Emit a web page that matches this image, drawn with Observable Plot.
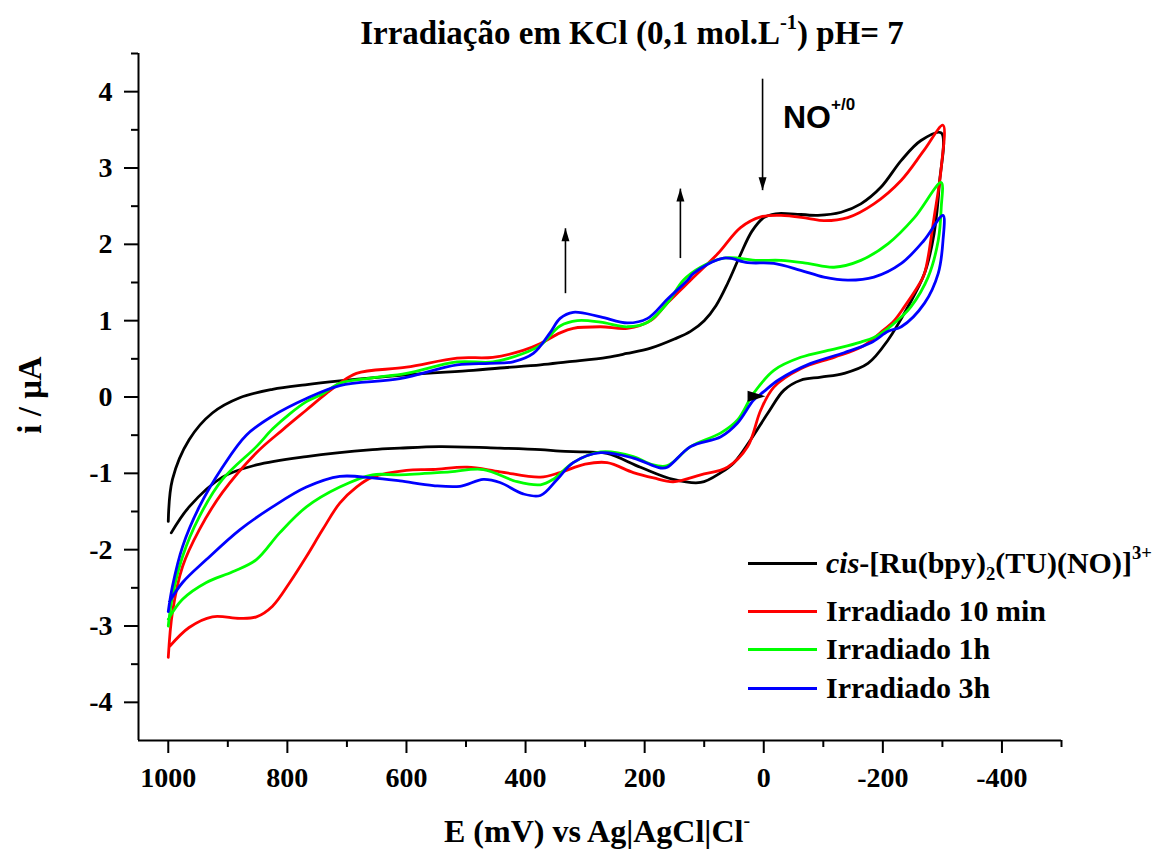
<!DOCTYPE html>
<html><head><meta charset="utf-8">
<script src="https://cdn.jsdelivr.net/npm/d3@7"></script>
<script src="https://cdn.jsdelivr.net/npm/@observablehq/plot@0.6"></script>
<style>
body{margin:0;background:#fff}
#wrap{position:relative;width:1159px;height:851px;overflow:hidden;font-family:"Liberation Serif","Times New Roman",serif;font-weight:bold;color:#000;background:#fff}
#wrap svg{position:absolute;left:0;top:0}
.ov{position:absolute;white-space:nowrap;line-height:1}
.ov sup,.ov sub{line-height:0;font-size:0.62em;position:relative;vertical-align:baseline}
.ov sup{top:-0.75em}
.ov sub{top:0.35em}
.leg{position:absolute;left:748px;height:30px;display:flex;align-items:center;font-size:30px;line-height:1;white-space:nowrap}
.leg .sw{width:69px;height:3px;margin-right:9px}
</style></head><body><div id="wrap"></div>
<script>
// ---- axis settings / ticks ----
const xDomain = [1050, -500];
const yDomain = [-4.5, 4.5];
const xMajor = [1000, 800, 600, 400, 200, 0, -200, -400];
const xMinor = [900, 700, 500, 300, 100, -100, -300, -500];
const yMajor = [-4, -3, -2, -1, 0, 1, 2, 3, 4];
const yMinor = [-3.5, -2.5, -1.5, -0.5, 0.5, 1.5, 2.5, 3.5, 4.5];

// ---- series: E (mV) and i (µA), one closed voltammogram each ----
const blackE = [1000,993,965,926,880,825,770,712,600,488,443,375,330,263,230,190,150,123,100,80,60,40,20,0,-20,-45,-91,-130,-163,-197,-231,-264,-298,
  -295,-286,-270,-242,-209,-175,-135,-96,-62,-34,-7,22,50,72,106,152,207,263,300,342,375,443,544,611,657,768,852,909,965,995];
const blackI = [-1.63,-1.08,-0.56,-0.21,-0.01,0.10,0.16,0.21,0.29,0.35,0.38,0.42,0.46,0.52,0.57,0.64,0.76,0.86,1.00,1.20,1.50,1.85,2.17,2.35,2.40,2.40,2.38,2.42,2.53,2.75,3.10,3.36,3.46,
  2.80,2.14,1.62,1.18,0.75,0.44,0.31,0.26,0.22,0.09,-0.21,-0.56,-0.86,-0.99,-1.12,-1.08,-0.92,-0.74,-0.72,-0.71,-0.69,-0.67,-0.65,-0.67,-0.69,-0.78,-0.89,-1.05,-1.44,-1.78];

const redE = [1000,993,976,948,909,852,808,768,734,712,684,600,515,455,404,375,342,320,274,229,190,162,123,77,39,5,-29,-74,-101,-141,-185,-231,-269,-301,
  -298,-286,-270,-259,-236,-219,-197,-163,-118,-62,-17,5,27,61,106,152,185,219,263,300,342,375,443,498,555,600,657,684,712,741,768,796,825,852,880,926,965,998];
const redI = [-3.41,-2.82,-2.22,-1.74,-1.25,-0.73,-0.43,-0.17,0.05,0.18,0.31,0.39,0.51,0.52,0.61,0.70,0.84,0.90,0.92,0.90,1.00,1.23,1.53,1.88,2.22,2.36,2.38,2.34,2.31,2.35,2.53,2.84,3.23,3.56,
  3.00,2.35,1.62,1.45,1.18,1.00,0.85,0.65,0.52,0.37,0.13,-0.17,-0.65,-0.92,-1.02,-1.11,-1.06,-0.99,-0.86,-0.88,-0.99,-1.05,-0.98,-0.92,-0.95,-0.96,-1.05,-1.18,-1.39,-1.74,-2.09,-2.43,-2.74,-2.88,-2.90,-2.88,-3.02,-3.27];

const greenE = [1000,993,976,948,909,852,825,796,768,741,712,657,600,515,455,404,375,342,313,274,229,195,162,135,106,67,10,-29,-74,-118,-163,-209,-253,-298,
  -298,-293,-276,-247,-231,-209,-185,-163,-130,-108,-62,-17,17,44,72,123,162,190,219,274,320,354,375,414,471,527,611,657,712,768,813,852,892,936,976,1000];
const greenI = [-3.00,-2.61,-2.09,-1.57,-1.08,-0.65,-0.42,-0.22,-0.06,0.04,0.18,0.25,0.31,0.46,0.46,0.57,0.68,0.93,1.00,0.98,0.92,0.98,1.23,1.53,1.70,1.82,1.79,1.79,1.75,1.70,1.79,2.01,2.35,2.81,
  2.48,2.05,1.57,1.18,1.05,0.90,0.78,0.72,0.65,0.61,0.52,0.35,0.05,-0.30,-0.47,-0.65,-0.90,-0.88,-0.78,-0.72,-0.86,-1.08,-1.15,-1.11,-0.95,-0.98,-1.02,-1.02,-1.18,-1.44,-1.78,-2.13,-2.29,-2.43,-2.65,-2.91];

const blueE = [1000,993,976,948,909,869,825,768,712,611,515,460,421,387,359,342,320,274,229,195,162,128,118,67,27,-17,-62,-101,-141,-185,-231,-269,-301,
  -301,-293,-270,-231,-209,-180,-135,-79,-24,0,17,44,72,123,162,173,219,274,320,347,375,404,443,471,510,555,611,657,712,768,825,880,936,976,998];
const blueI = [-2.81,-2.48,-1.96,-1.44,-0.92,-0.50,-0.25,-0.02,0.15,0.24,0.42,0.44,0.46,0.57,0.84,1.03,1.11,1.05,0.97,1.03,1.28,1.53,1.62,1.82,1.76,1.75,1.66,1.57,1.53,1.57,1.75,2.05,2.38,
  2.05,1.62,1.23,0.92,0.86,0.71,0.58,0.44,0.22,0.07,-0.04,-0.34,-0.52,-0.65,-0.92,-0.93,-0.80,-0.73,-0.86,-1.08,-1.29,-1.27,-1.12,-1.08,-1.17,-1.16,-1.10,-1.06,-1.04,-1.18,-1.44,-1.74,-2.13,-2.43,-2.68];

const seriesLabels = [
  "<i>cis</i>-[Ru(bpy)<sub>2</sub>(TU)(NO)]<sup>3+</sup>",
  "Irradiado 10 min",
  "Irradiado 1h",
  "Irradiado 3h"
];
const seriesColors = ["#000000", "#ff0000", "#00ff00", "#0000ff"];

// ---- annotations ----
const arrowE = [333, 140, 2];
const arrowFrom = [1.36, 1.82, 4.17];
const arrowTo = [2.21, 2.73, 2.71];
const markerE = [-3];
const markerI = [0.01];

// ---- build tables ----
const seriesData = [[blackE, blackI], [redE, redI], [greenE, greenI], [blueE, blueI]];
const rows = seriesData.flatMap(([E, I], s) => E.map((e, k) => ({s, E: e, i: I[k]})));
const arrows = arrowE.map((e, k) => ({E: e, from: arrowFrom[k], to: arrowTo[k]}));
const markers = markerE.map((e, k) => ({E: e, i: markerI[k]}));

const arrowHead = {draw(ctx) { ctx.moveTo(0, 0); ctx.lineTo(4, 13); ctx.lineTo(-4, 13); ctx.closePath(); }};
const scanHead = {draw(ctx) { ctx.moveTo(0, 0); ctx.lineTo(5.5, 18); ctx.lineTo(-5.5, 18); ctx.closePath(); }};

const fmt = d => String(d);

const chart = Plot.plot({
  width: 1159,
  height: 851,
  marginLeft: 138,
  marginRight: 98,
  marginTop: 53,
  marginBottom: 111,
  x: {domain: xDomain},
  y: {domain: yDomain},
  style: {fontFamily: '"Liberation Serif","Times New Roman",serif', fontWeight: "bold", fontSize: "28px", background: "transparent", color: "#000"},
  marks: [
    Plot.axisX({ticks: xMinor, tickSize: 7, text: null, label: null, strokeWidth: 2}),
    Plot.axisX({ticks: xMajor, tickSize: 13, tickPadding: 14, tickFormat: fmt, label: null, strokeWidth: 2}),
    Plot.axisY({ticks: yMinor, tickSize: 7, text: null, label: null, strokeWidth: 2}),
    Plot.axisY({ticks: yMajor, tickSize: 14, tickPadding: 12, tickFormat: fmt, label: null, strokeWidth: 2}),
    Plot.ruleX([xDomain[0]], {stroke: "#000", strokeWidth: 2}),
    Plot.ruleY([yDomain[0]], {stroke: "#000", strokeWidth: 2}),
    ...seriesData.map((_, s) => Plot.line(rows.filter(r => r.s === s), {
      x: "E", y: "i", stroke: seriesColors[s], strokeWidth: 2.8, curve: "catmull-rom", strokeLinejoin: "round"
    })),
    Plot.link(arrows, {x1: "E", x2: "E", y1: "from", y2: "to", stroke: "#000", strokeWidth: 1.6}),
    Plot.dot(arrows, {x: "E", y: "to", symbol: arrowHead, fill: "#000", stroke: null, rotate: d => d.to < d.from ? 180 : 0}),
    Plot.dot(markers, {x: "E", y: "i", symbol: scanHead, fill: "#000", stroke: null, rotate: 90})
  ]
});

const wrap = document.getElementById("wrap");
wrap.appendChild(chart);

function addOv(html, style) {
  const d = document.createElement("div");
  d.className = "ov";
  d.innerHTML = html;
  Object.assign(d.style, style);
  wrap.appendChild(d);
  return d;
}

addOv("Irradiação em KCl (0,1 mol.L<sup>-1</sup>) pH= 7", {left: "632px", top: "17px", fontSize: "33px", transform: "translateX(-50%)"});
addOv("E (mV) vs Ag|AgCl|Cl<sup>-</sup>", {left: "597px", top: "815px", fontSize: "32px", transform: "translateX(-50%)"});
addOv("i / μA", {left: "30px", top: "395px", fontSize: "33px", transform: "translate(-50%,-50%) rotate(-90deg)"});
addOv('NO<span style="font-size:17px;position:relative;top:-18px">+/0</span>', {left: "783px", top: "101px", fontSize: "32px", fontFamily: '"Liberation Sans",Arial,sans-serif'});

const legendCenters = [563, 611, 649, 688];
seriesLabels.forEach((lab, s) => {
  const r = document.createElement("div");
  r.className = "leg ov";
  r.style.top = (legendCenters[s] - 15) + "px";
  r.innerHTML = `<span class="sw" style="background:${seriesColors[s]}"></span><span>${lab}</span>`;
  wrap.appendChild(r);
});
</script></body></html>
